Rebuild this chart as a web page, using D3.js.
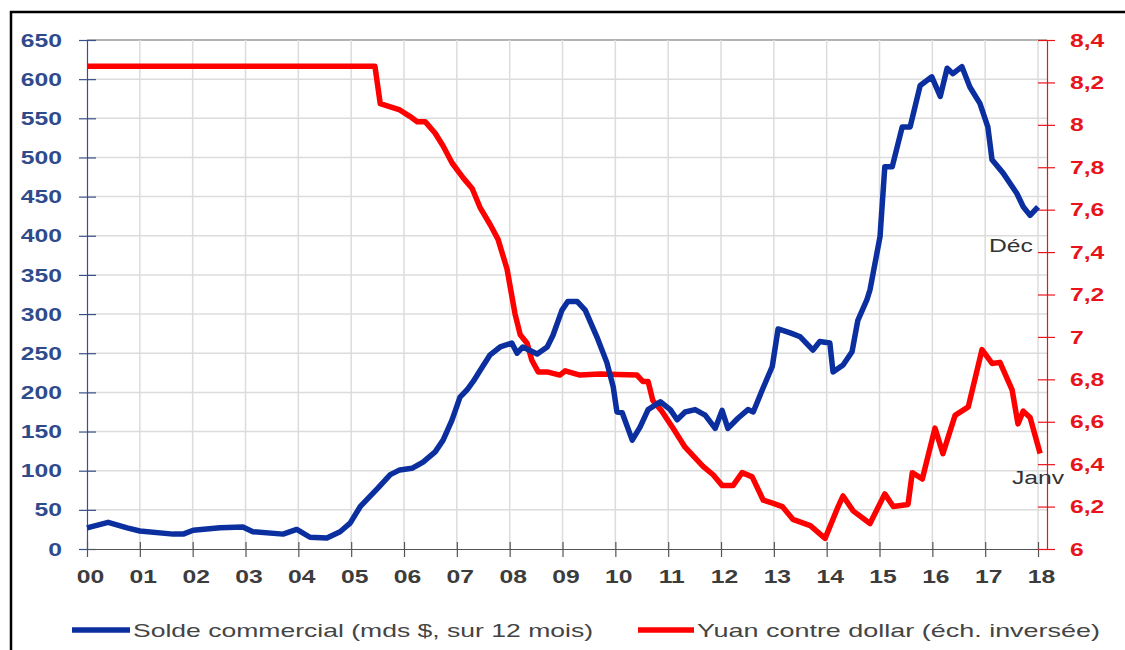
<!DOCTYPE html>
<html>
<head>
<meta charset="utf-8">
<script src="https://cdn.jsdelivr.net/npm/d3@7"></script>
<style>
  body { margin: 0; background: #fff; }
  svg { display: block; }
  text { font-family: "Liberation Sans", Arial, sans-serif; }
</style>
</head>
<body>
<svg width="1125" height="650"></svg>
<script>
// x axis: years 2000..2018, labelled with two digits
var yearTicks = d3.range(2000, 2019);
var yearLabels = ["00","01","02","03","04","05","06","07","08","09","10","11","12","13","14","15","16","17","18"];
var soldeTicks = [0, 50, 100, 150, 200, 250, 300, 350, 400, 450, 500, 550, 600, 650];
var yuanTicks = [6, 6.2, 6.4, 6.6, 6.8, 7, 7.2, 7.4, 7.6, 7.8, 8, 8.2, 8.4];

// trade balance (bn $, 12-month sum)
var soldeDates = [2000.00,2000.40,2000.76,2001.00,2001.63,2001.82,2002.01,2002.52,2002.95,2003.14,2003.71,2003.97,2004.22,2004.54,2004.79,2004.98,2005.17,2005.51,2005.74,2005.92,2006.15,2006.36,2006.59,2006.74,2006.91,2007.06,2007.19,2007.31,2007.44,2007.63,2007.82,2008.04,2008.14,2008.25,2008.52,2008.71,2008.82,2008.99,2009.10,2009.28,2009.43,2009.65,2009.84,2009.96,2010.03,2010.13,2010.32,2010.47,2010.62,2010.85,2011.04,2011.17,2011.32,2011.51,2011.70,2011.89,2012.02,2012.13,2012.32,2012.51,2012.61,2012.78,2012.97,2013.08,2013.31,2013.50,2013.74,2013.87,2014.06,2014.12,2014.31,2014.48,2014.59,2014.76,2014.82,2015.01,2015.10,2015.24,2015.43,2015.58,2015.77,2015.99,2016.15,2016.28,2016.39,2016.56,2016.71,2016.90,2017.05,2017.13,2017.34,2017.60,2017.72,2017.85,2018.00];
var soldeValues = [27,34,27,23,19,19,24,27,28,22,19,25,15,14,22,33,54,78,95,101,103,111,124,139,165,194,203,214,228,248,258,263,250,258,249,258,273,305,316,316,305,271,238,207,175,174,139,156,178,188,178,165,175,178,171,154,177,154,167,178,175,203,233,281,276,271,254,265,263,226,235,252,292,318,331,399,488,488,539,539,592,603,578,614,607,616,590,569,539,497,480,454,437,426,437];

// yuan per dollar
var yuanDates = [2000.00,2005.45,2005.55,2005.92,2006.11,2006.25,2006.40,2006.59,2006.74,2006.91,2007.12,2007.29,2007.44,2007.63,2007.78,2007.95,2008.10,2008.20,2008.33,2008.42,2008.54,2008.71,2008.95,2009.05,2009.33,2009.71,2010.41,2010.52,2010.62,2010.71,2010.88,2011.09,2011.32,2011.47,2011.66,2011.85,2012.02,2012.23,2012.40,2012.59,2012.80,2012.99,2013.16,2013.36,2013.69,2013.97,2014.20,2014.31,2014.50,2014.82,2015.10,2015.26,2015.54,2015.62,2015.81,2016.05,2016.20,2016.43,2016.68,2016.94,2017.13,2017.28,2017.51,2017.62,2017.72,2017.85,2018.04];
var yuanValues = [8.276,8.276,8.10,8.07,8.04,8.015,8.015,7.96,7.90,7.82,7.75,7.70,7.61,7.53,7.46,7.32,7.11,7.01,6.97,6.89,6.835,6.835,6.82,6.84,6.82,6.825,6.82,6.79,6.79,6.70,6.65,6.57,6.48,6.44,6.39,6.35,6.30,6.30,6.36,6.34,6.23,6.215,6.20,6.14,6.11,6.05,6.19,6.25,6.18,6.12,6.26,6.20,6.21,6.36,6.33,6.57,6.45,6.63,6.67,6.94,6.875,6.88,6.75,6.59,6.65,6.62,6.45];

var svg = d3.select("svg");
var plotL = 87, plotR = 1047, plotT = 40, plotB = 549;
var sx = 1.3; // the reference text is stretched sideways

var x = d3.scaleLinear().domain([2000, 2018.17]).range([plotL, plotR]);
var yL = d3.scaleLinear().domain([0, 650]).range([plotB, plotT]);
var yR = d3.scaleLinear().domain([6, 8.4]).range([plotB, plotT]);

// outer frame
svg.append("rect")
  .attr("x", 11).attr("y", 12).attr("width", 1130).attr("height", 660)
  .attr("fill", "none").attr("stroke", "#000").attr("stroke-width", 2.5);

// grid
var grid = svg.append("g");
grid.selectAll(".h").data(soldeTicks.slice(1)).join("line")
  .attr("x1", plotL).attr("x2", plotR)
  .attr("y1", d => yL(d)).attr("y2", d => yL(d))
  .attr("stroke", d => d == 650 ? "#9a9a9a" : "#dcdcdc").attr("stroke-width", 1.5);
grid.selectAll(".v").data(yearTicks.slice(1)).join("line")
  .attr("x1", d => x(d)).attr("x2", d => x(d))
  .attr("y1", plotT).attr("y2", plotB)
  .attr("stroke", "#dcdcdc").attr("stroke-width", 1.5);

function comma(v) { return (+v.toFixed(1)).toString().replace(".", ","); }

// left axis
var gL = svg.append("g").attr("transform", "translate(" + plotL + ",0)")
  .call(d3.axisLeft(yL).tickValues(soldeTicks).tickSize(8).tickSizeOuter(0));
gL.select(".domain").attr("stroke", "#3a4f85").attr("stroke-width", 1.2);
gL.selectAll(".tick line").attr("x1", 9).attr("stroke", "#3a4f85").attr("stroke-width", 1.2);
gL.selectAll(".tick text")
  .attr("x", -25 / sx).attr("transform", "scale(" + sx + ",1)")
  .attr("fill", "#2f4b8c").style("font-size", "19px").style("font-weight", "bold");

// bottom axis
var gB = svg.append("g").attr("transform", "translate(0," + plotB + ")")
  .call(d3.axisBottom(x).tickValues(yearTicks).tickFormat((d, i) => yearLabels[i]).tickSize(8).tickSizeOuter(0));
gB.select(".domain").attr("stroke", "#555").attr("stroke-width", 1.2);
gB.selectAll(".tick line").attr("y1", -7).attr("stroke", "#555").attr("stroke-width", 1.2);
gB.selectAll(".tick text")
  .attr("x", 3 / sx).attr("y", 34).attr("dy", 0).attr("transform", "scale(" + sx + ",1)")
  .attr("fill", "#3c3c3c").style("font-size", "19px").style("font-weight", "bold");

// right axis
var gR = svg.append("g").attr("transform", "translate(" + plotR + ",0)")
  .call(d3.axisRight(yR).tickValues(yuanTicks).tickFormat(comma).tickSize(8).tickSizeOuter(0));
gR.select(".domain").attr("stroke", "#e8141c").attr("stroke-width", 1.2);
gR.selectAll(".tick line").attr("x1", -9).attr("stroke", "#e8141c").attr("stroke-width", 1.2);
gR.selectAll(".tick text")
  .attr("x", 23 / sx).attr("transform", "scale(" + sx + ",1)")
  .attr("fill", "#e8141c").style("font-size", "19px").style("font-weight", "bold");

// lines
var soldeLine = d3.line().x((d, i) => x(soldeDates[i])).y(d => yL(d));
var yuanLine = d3.line().x((d, i) => x(yuanDates[i])).y(d => yR(d));

svg.append("path").datum(yuanValues)
  .attr("d", yuanLine).attr("fill", "none")
  .attr("stroke", "#ff0000").attr("stroke-width", 5.5).attr("stroke-linejoin", "round");
svg.append("path").datum(soldeValues)
  .attr("d", soldeLine).attr("fill", "none")
  .attr("stroke", "#0b2f9f").attr("stroke-width", 5.5).attr("stroke-linejoin", "round");

// end labels
function label(tx, ty, txt, size, color) {
  return svg.append("text")
    .attr("transform", "translate(" + tx + "," + ty + ") scale(" + sx + ",1)")
    .attr("fill", color).style("font-size", size + "px").text(txt);
}
label(989, 252, "Déc", 19, "#333");
label(1012, 484, "Janv", 19, "#333");

// legend
svg.append("line").attr("x1", 72).attr("x2", 130).attr("y1", 630).attr("y2", 630)
  .attr("stroke", "#0b2f9f").attr("stroke-width", 5.5);
svg.append("text").attr("x", 133).attr("y", 637)
  .attr("textLength", 460).attr("lengthAdjust", "spacingAndGlyphs")
  .attr("fill", "#444").style("font-size", "19px")
  .text("Solde commercial (mds $, sur 12 mois)");
svg.append("line").attr("x1", 638).attr("x2", 694).attr("y1", 630).attr("y2", 630)
  .attr("stroke", "#ff0000").attr("stroke-width", 5.5);
svg.append("text").attr("x", 697).attr("y", 637)
  .attr("textLength", 403).attr("lengthAdjust", "spacingAndGlyphs")
  .attr("fill", "#444").style("font-size", "19px")
  .text("Yuan contre dollar (éch. inversée)");
</script>
</body>
</html>
